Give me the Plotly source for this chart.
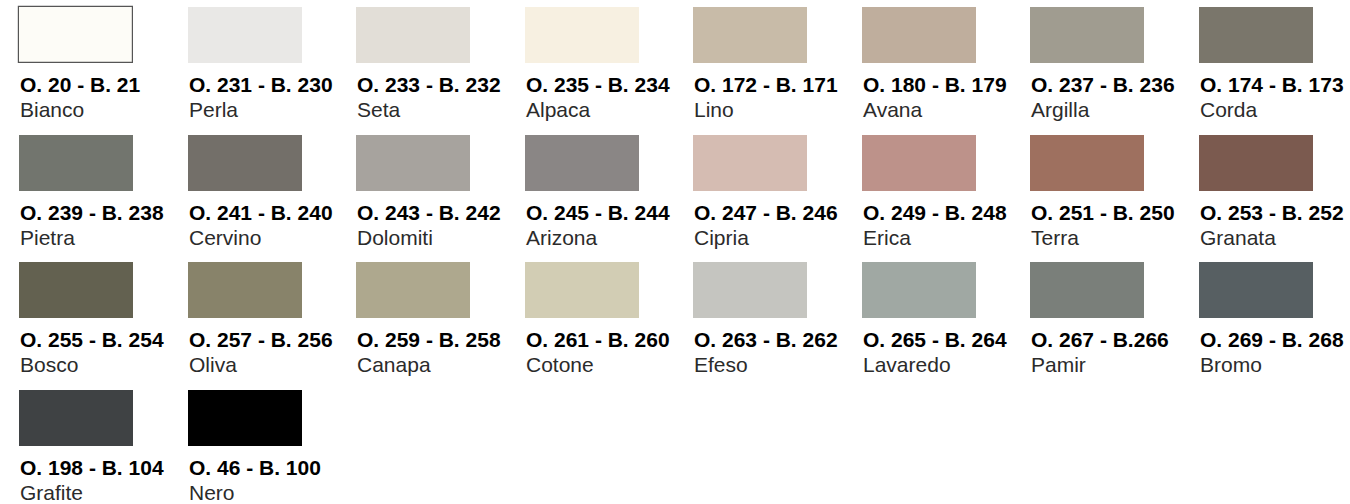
import plotly.graph_objects as go

codes = ["O. 20 - B. 21", "O. 231 - B. 230", "O. 233 - B. 232", "O. 235 - B. 234",
         "O. 172 - B. 171", "O. 180 - B. 179", "O. 237 - B. 236", "O. 174 - B. 173",
         "O. 239 - B. 238", "O. 241 - B. 240", "O. 243 - B. 242", "O. 245 - B. 244",
         "O. 247 - B. 246", "O. 249 - B. 248", "O. 251 - B. 250", "O. 253 - B. 252",
         "O. 255 - B. 254", "O. 257 - B. 256", "O. 259 - B. 258", "O. 261 - B. 260",
         "O. 263 - B. 262", "O. 265 - B. 264", "O. 267 - B.266", "O. 269 - B. 268",
         "O. 198 - B. 104", "O. 46 - B. 100"]
names = ["Bianco", "Perla", "Seta", "Alpaca", "Lino", "Avana", "Argilla", "Corda",
         "Pietra", "Cervino", "Dolomiti", "Arizona", "Cipria", "Erica", "Terra", "Granata",
         "Bosco", "Oliva", "Canapa", "Cotone", "Efeso", "Lavaredo", "Pamir", "Bromo",
         "Grafite", "Nero"]
colors = ["#FDFCF7", "#E9E8E6", "#E2DED7", "#F7F0E1", "#C8BBA8", "#BFAE9D", "#A09C90", "#7A766B",
          "#72756E", "#736F69", "#A7A39E", "#8A8685", "#D5BCB2", "#BD928A", "#9E705F", "#7B5A4F",
          "#636150", "#88836A", "#AEA88E", "#D2CDB4", "#C5C5C0", "#A0A8A3", "#7A7F7A", "#575F62",
          "#3F4244", "#000000"]

NCOL = 8
PX_COL = 168.57   # pixel pitch of a column
PX_ROW = 127.67   # pixel pitch of a row
SW_W = 114 / PX_COL
SW_H = 56 / PX_ROW

cols = [i % NCOL for i in range(len(names))]
rows = [i // NCOL for i in range(len(names))]

fig = go.Figure()
fig.add_trace(go.Bar(
    x=[c + SW_W / 2 for c in cols],
    y=[SW_H] * len(cols),
    base=rows,
    width=SW_W,
    marker=dict(color=colors,
                line=dict(color=["#555555"] + ["rgba(0,0,0,0)"] * (len(cols) - 1),
                          width=[1.2] + [0] * (len(cols) - 1))),
    hoverinfo="skip",
    showlegend=False,
))

font_family = "Liberation Sans, Arial, Helvetica, sans-serif"
for c, r, code, name in zip(cols, rows, codes, names):
    fig.add_annotation(x=c, y=r + 77.5 / PX_ROW, text="<b>" + code + "</b>",
                       xanchor="left", yanchor="middle", showarrow=False,
                       xshift=-1, font=dict(family=font_family, size=21, color="#000000"))
    fig.add_annotation(x=c, y=r + 102.5 / PX_ROW, text=name,
                       xanchor="left", yanchor="middle", showarrow=False,
                       xshift=-1, font=dict(family=font_family, size=21, color="#2b2b2b"))

fig.update_layout(
    width=1350, height=504,
    margin=dict(l=0, r=0, t=0, b=0),
    paper_bgcolor="white", plot_bgcolor="white",
    bargap=0,
    xaxis=dict(range=[-19 / PX_COL, (1350 - 19) / PX_COL], visible=False, fixedrange=True),
    yaxis=dict(range=[(504 - 7) / PX_ROW, -7 / PX_ROW], visible=False, fixedrange=True),
)
fig.write_html("out.html", config={"displayModeBar": False},
               post_script="document.body.style.margin='0';document.body.style.overflow='hidden';")
